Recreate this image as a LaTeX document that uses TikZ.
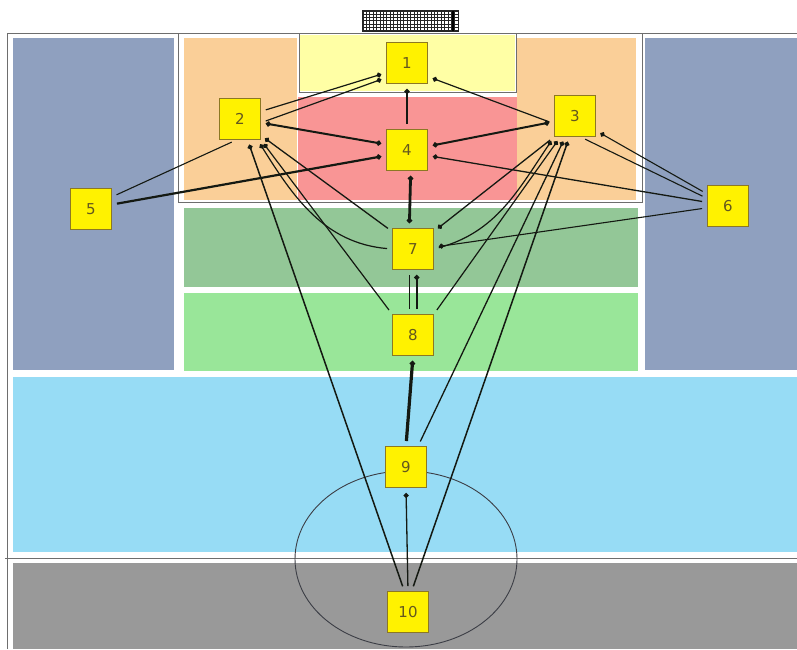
\documentclass[tikz,border=0pt]{standalone}
\usepackage{fontspec}
\newfontfamily\nodefont{DejaVu Sans}
\usetikzlibrary{arrows.meta}
\definecolor{bluegray}{RGB}{143,160,191}
\definecolor{orangez}{RGB}{250,207,152}
\definecolor{yellowz}{RGB}{255,255,165}
\definecolor{redz}{RGB}{249,149,149}
\definecolor{dgreen}{RGB}{147,199,151}
\definecolor{lgreen}{RGB}{153,230,153}
\definecolor{lblue}{RGB}{151,220,245}
\definecolor{grayz}{RGB}{153,153,153}
\definecolor{framec}{RGB}{110,110,110}
\definecolor{circlec}{RGB}{60,62,70}
\definecolor{linec}{RGB}{20,25,18}
\definecolor{nodeborder}{RGB}{140,120,35}
\definecolor{nodetext}{RGB}{100,88,30}
\tikzset{
  player/.style={draw=nodeborder, fill=yellow, line width=1pt, minimum size=41pt, inner sep=0pt,
    font=\nodefont\fontsize{15}{15}\selectfont, text=nodetext},
  pass/.style={draw=linec, line width=1.2pt, -{Circle[length=5pt]}, shorten >=5pt, shorten <=5pt},
  twoway/.style={pass, {Circle[length=5pt]}-{Circle[length=5pt]}},
  plain/.style={draw=linec, line width=1.2pt, shorten >=5pt, shorten <=5pt}
}
\begin{document}
\begin{tikzpicture}[x=1pt,y=-1pt]
\useasboundingbox (0,0) rectangle (797,649);
\fill[white] (0,0) rectangle (797,649);
% field frame
\draw[framec, line width=1pt] (7,649) -- (7,33) -- (797,33);
% side columns
\fill[bluegray] (13,38) rectangle (174,370);
\fill[bluegray] (645,38) rectangle (797,370);
% penalty area zones
\fill[orangez] (184,38) rectangle (297,200);
\fill[orangez] (517,38) rectangle (636,200);
\fill[redz] (298,97) rectangle (517,200);
\draw[framec, line width=1pt] (178,33) rectangle (642,202);
\fill[yellowz] (300,35) rectangle (515,91);
\draw[framec, line width=1pt] (299,33) rectangle (516,92);
% bands
\fill[dgreen] (184,208) rectangle (638,287);
\fill[lgreen] (184,293) rectangle (638,371);
\fill[lblue] (13,377) rectangle (797,552);
\draw[framec, line width=1pt] (5,558) -- (797,558);
\fill[grayz] (13,563) rectangle (797,649);
% centre circle
\draw[circlec, line width=0.9pt] (406,559) ellipse [x radius=111, y radius=88];
% goal net
\fill[white] (362,10) rectangle (458,31);
\foreach \i in {0,...,27} {\draw[black!85, line width=0.9pt] (363+3.4*\i,10) -- (363+3.4*\i,31);}
\foreach \j in {0,...,6} {\draw[black!85, line width=0.9pt] (362,11+3.3*\j) -- (458,11+3.3*\j);}
\draw[black, line width=1.8pt] (453,10) -- (453,31);
\draw[black!85, line width=0.8pt] (362,10) rectangle (458,31);
% players
\node[player] (n1) at (407,63) {1};
\node[player] (n2) at (240,119) {2};
\node[player] (n3) at (575,116) {3};
\node[player] (n4) at (407,150) {4};
\node[player] (n5) at (91,209) {5};
\node[player] (n6) at (728,206) {6};
\node[player] (n7) at (413,249) {7};
\node[player] (n8) at (413,335) {8};
\node[player] (n9) at (406,467) {9};
\node[player] (n10) at (408,612) {10};
% passes
\draw[pass] (n2.20) -- (n1.205);
\draw[pass] (n2.-10) -- (n1.215);
\draw[pass] (n3.200) -- (n1.-33);
\draw[pass, line width=1.5pt] (n4.north) -- (n1.south);
\draw[twoway, line width=2pt] (n4.165) -- (n2.-10);
\draw[pass, line width=2.2pt] (n5.12) -- (n4.195);
\draw[plain, line width=1.1pt] (n5.30) -- (n2.-100);
\draw[twoway, line width=2pt] (n3.195) -- (n4.10);
\draw[pass, line width=1.3pt] (n6.170) -- (n4.-15);
\draw[pass, line width=1.1pt] (n6.150) -- (n3.-35);
\draw[plain, line width=1.1pt] (n3.-75) -- (n6.160);
\draw[pass, line width=1.1pt] (n6.185) -- (n7.5);
\draw[twoway, line width=2.8pt] (n7.100) -- (n4.-80);
\draw[pass, line width=1.6pt] (n8.80) -- (n7.-80);
\draw[plain, line width=1.6pt] (n8.100) -- (n7.-100);
\draw[pass, line width=3.2pt] (n9.north) -- (n8.south);
\draw[pass, line width=1.3pt] (n10.north) -- (n9.south);
\draw[pass, line width=1.5pt] (n10.100) -- (n2.-70);
\draw[pass, line width=1.5pt] (n10.80) -- (n3.-105);
\draw[pass, line width=1.3pt] (n9.60) -- (n3.-115);
\draw[pass] (n8.45) -- (n3.-125);
\draw[pass] (n7.east) to[out=15, in=236] (n3.-135);
\draw[pass] (n7.west) to[out=175, in=-58] (n2.-50);
\draw[pass, line width=1.3pt] (n7.140) -- (n2.-38);
\draw[pass, line width=1.3pt] (n3.-135) -- (n7.40);
\draw[pass] (n8.135) -- (n2.-45);
\end{tikzpicture}
\end{document}
